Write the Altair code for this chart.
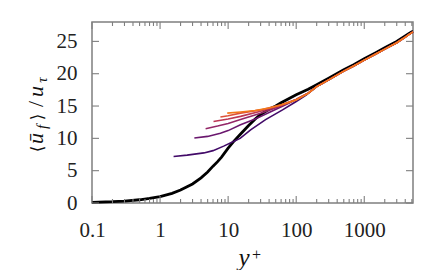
import altair as alt
import pandas as pd

# ---------------- data ----------------
yp_black = [0.1, 0.2, 0.3, 0.5, 0.7, 1, 1.5, 2, 3, 4, 5, 6, 7, 8, 10, 12, 15, 20, 25, 30,
            40, 50, 60, 80, 100, 150, 200, 300, 500, 700, 1000, 1500, 2000, 3000, 4000,
            4500, 5000, 5200]
u_black = [0.1, 0.2, 0.3, 0.5, 0.7, 1.0, 1.5, 2.0, 2.95, 3.9, 4.8, 5.7, 6.4, 7.1, 8.5, 9.5,
           10.6, 12.0, 13.0, 13.7, 14.5, 15.0, 15.5, 16.2, 16.75, 17.6, 18.3, 19.3, 20.6,
           21.4, 22.3, 23.3, 24.0, 25.0, 25.85, 26.2, 26.5, 26.55]

tail_yp = [200, 300, 500, 700, 1000, 1500, 2000, 3000, 4000, 4500, 5000, 5200]
tail_u = [18.0, 19.05, 20.4, 21.2, 22.1, 23.1, 23.8, 24.8, 25.65, 26.05, 26.35, 26.45]

yp_1 = [1.58, 2.5, 4.4, 6, 8.6, 12, 15, 21.4, 35.5, 63, 100, 140] + tail_yp
u_1 = [7.2, 7.4, 7.75, 8.1, 8.8, 9.5, 10.0, 11.3, 12.9, 14.4, 15.7, 16.7] + tail_u
yp_2 = [3.19, 5, 7.7, 10, 15.2, 25, 40, 70, 100, 150] + tail_yp
u_2 = [10.05, 10.3, 10.8, 11.2, 12.1, 13.0, 14.0, 15.2, 16.0, 17.0] + tail_u
yp_3 = [4.67, 7, 10, 15.2, 30, 60, 100, 150] + tail_yp
u_3 = [11.5, 11.9, 12.3, 12.9, 13.9, 15.0, 16.0, 17.0] + tail_u
yp_4 = [6.1, 10, 15.2, 30, 60, 100, 150] + tail_yp
u_4 = [12.6, 13.0, 13.4, 14.2, 15.1, 16.0, 17.0] + tail_u
yp_5 = [7.7, 10, 15.2, 30, 60, 100, 150] + tail_yp
u_5 = [13.3, 13.5, 13.9, 14.4, 15.2, 16.0, 17.0] + tail_u
yp_6 = [9.7, 15.2, 25, 39.7, 60, 100, 150] + tail_yp
u_6 = [13.9, 14.07, 14.3, 14.7, 15.15, 15.95, 16.95] + tail_u

series_names = ["s1", "s2", "s3", "s4", "s5", "s6"]
series_colors = ["#420a68", "#6a176e", "#932667", "#bc3754", "#dd513a", "#f37819"]
series_yp = [yp_1, yp_2, yp_3, yp_4, yp_5, yp_6]
series_u = [u_1, u_2, u_3, u_4, u_5, u_6]

x_major = [0.1, 1, 10, 100, 1000]
x_minor = [m * d for d in [0.1, 1, 10, 100] for m in range(2, 10)] + [2000, 3000, 4000, 5000]
y_ticks = [0, 5, 10, 15, 20, 25]

# ---------------- build tables ----------------
df_black = pd.DataFrame({"yp": yp_black, "u": u_black})
rows = []
for name, yps, us in zip(series_names, series_yp, series_u):
    for a, b in zip(yps, us):
        rows.append({"s": name, "yp": a, "u": b})
df_col = pd.DataFrame(rows)
df_xmaj = pd.DataFrame({"v": x_major})
df_xmin = pd.DataFrame({"v": x_minor})
df_y = pd.DataFrame({"v": y_ticks})

W, H = 321, 181
GRAY = "#7f7f7f"
SERIF = "Liberation Serif"

XS = alt.Scale(type="log", domain=[0.1, 5200], nice=False)
YS = alt.Scale(domain=[0, 28], nice=False)
X_AX = alt.Axis(values=x_major, format="~g", ticks=False, domain=False, grid=False,
                labelFont=SERIF, labelFontSize=21, labelPadding=16, labelFlush=False,
                labelColor="#222222", title=None, labelOverlap=False)
Y_AX = alt.Axis(values=y_ticks, ticks=False, domain=False, grid=False,
                labelFont=SERIF, labelFontSize=21, labelPadding=15, labelFlush=False,
                labelColor="#222222", title=None)

black = alt.Chart(df_black).mark_line(color="black", strokeWidth=2.8).encode(
    x=alt.X("yp:Q", scale=XS, axis=X_AX),
    y=alt.Y("u:Q", scale=YS, axis=Y_AX),
)
colored = alt.Chart(df_col).mark_line(strokeWidth=1.6).encode(
    x=alt.X("yp:Q", scale=XS, axis=X_AX),
    y=alt.Y("u:Q", scale=YS, axis=Y_AX),
    color=alt.Color("s:N", scale=alt.Scale(domain=series_names, range=series_colors), legend=None),
)

def xrule(df, y0, y1):
    return alt.Chart(df).mark_rule(color=GRAY, strokeWidth=1.1).encode(
        x=alt.X("v:Q", scale=XS, axis=X_AX), y=alt.value(y0), y2=alt.value(y1))

def yrule(x0, x1):
    return alt.Chart(df_y).mark_rule(color=GRAY, strokeWidth=1.1).encode(
        y=alt.Y("v:Q", scale=YS, axis=Y_AX), x=alt.value(x0), x2=alt.value(x1))

ticks = [
    xrule(df_xmaj, H, H - 7), xrule(df_xmin, H, H - 4),
    xrule(df_xmaj, 0, 7), xrule(df_xmin, 0, 4),
    yrule(0, 7), yrule(W - 7, W),
]

def txt(s, x, y, size, font=SERIF, italic=False, angle=0):
    kw = dict(text=s, font=font, fontSize=size, angle=angle,
              align="center", baseline="alphabetic", color="#111111")
    if italic:
        kw["fontStyle"] = "italic"
    return alt.Chart(alt.Data(values=[{}])).mark_text(**kw).encode(
        x=alt.value(x), y=alt.value(y))

BR = "DejaVu Serif"
# y-axis title  <u_f>/u_tau  (rotated)
ytitle = [
    txt("⟨", -49.5, 127, 17, font=BR, angle=270),
    txt("ū", -49.5, 116.5, 22, italic=True, angle=270),
    txt("f", -45.5, 105, 15, italic=True, angle=270),
    txt("⟩", -49.5, 95, 17, font=BR, angle=270),
    txt("/", -49.5, 82, 22, angle=270),
    txt("u", -49.5, 69.5, 22, italic=True, angle=270),
    txt("τ", -45.5, 58, 15, italic=True, angle=270),
]
# x-axis title  y+
xtitle = [
    txt("y", 152, 244, 25, italic=True),
    txt("+", 164.5, 238, 16),
]

chart = alt.layer(black, colored, *ticks, *ytitle, *xtitle).properties(
    width=W, height=H,
    autosize=alt.AutoSizeParams(type="none"),
    padding={"left": 84, "top": 14, "right": 10, "bottom": 67},
).configure_view(stroke=GRAY, strokeWidth=1.5).configure_axis(
    labelFont=SERIF, labelFontSize=21
)

chart.save("out.html", embed_options={"renderer": "svg", "actions": False})
